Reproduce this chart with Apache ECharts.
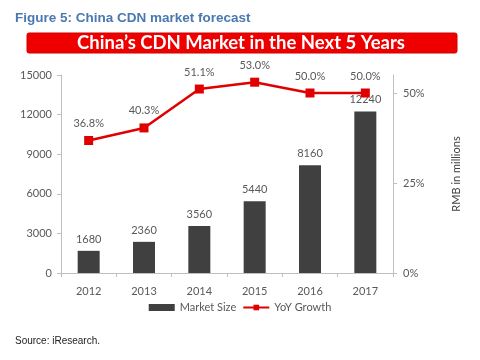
<!DOCTYPE html>
<html><head><meta charset="utf-8">
<script src="https://cdn.jsdelivr.net/npm/echarts@6/dist/echarts.min.js"></script>
<style>html,body{margin:0;padding:0;background:#fff}#c{width:480px;height:360px}</style>
</head><body><div id="c"></div>
<script>
const years = ['2012', '2013', '2014', '2015', '2016', '2017'];
const marketSize = [1680, 2360, 3560, 5440, 8160, 12240];
const yoyGrowth = [36.8, 40.3, 51.1, 53.0, 50.0, 50.0];
const rightTickValues = [0, 25, 50];
const figureTitle = 'Figure 5: China CDN market forecast';
const bannerTitle = 'China\u2019s CDN Market in the Next 5 Years';
const sourceText = 'Source: iResearch.';

const chart = echarts.init(document.getElementById('c'), null, {renderer: 'canvas'});
const FONT = 'Lato, "Open Sans", sans-serif';
const txt = '#595959';
chart.setOption({
  animation: false,
  backgroundColor: '#fff',
  textStyle: {fontFamily: FONT},
  graphic: [
    {type: 'text', left: 15, top: 11, style: {text: figureTitle, fill: '#4a78b0', font: 'bold 13.5px "Liberation Sans", Arial, sans-serif'}},
    {type: 'rect', shape: {x: 27, y: 33, width: 430, height: 20, r: 2}, style: {fill: '#ee0000', stroke: '#d00000', lineWidth: 1}},
    {type: 'text', x: 241, y: 43, style: {text: bannerTitle, fill: '#fff', align: 'center', verticalAlign: 'middle', font: 'bold 18.5px Lato, sans-serif'}},
    {type: 'text', left: 15, top: 336, style: {text: sourceText, fill: '#222', font: '10px "Liberation Sans", Arial, sans-serif'}}
  ],
  grid: {left: 61, right: 87, top: 75, bottom: 87, containLabel: false},
  legend: {
    bottom: 42, left: 'center', itemGap: 6, itemWidth: 26, itemHeight: 7,
    textStyle: {color: txt, fontSize: 11, fontFamily: FONT},
    data: [
      {name: 'Market Size', icon: 'rect'},
      {name: 'YoY Growth'}
    ]
  },
  xAxis: {
    type: 'category', data: years,
    axisLine: {lineStyle: {color: '#bfbfbf'}},
    axisTick: {show: true, length: 4, lineStyle: {color: '#bfbfbf'}},
    axisLabel: {color: txt, fontSize: 11, margin: 13}
  },
  yAxis: [
    {
      type: 'value', min: 0, max: 15000, interval: 3000,
      axisLine: {show: true, lineStyle: {color: '#bfbfbf'}},
      axisTick: {show: true, length: 4, lineStyle: {color: '#bfbfbf'}},
      splitLine: {show: false},
      axisLabel: {color: txt, fontSize: 11, margin: 9, formatter: v => String(v)}
    },
    {
      type: 'value', min: 0, max: 55, position: 'right',
      name: 'RMB in millions', nameLocation: 'middle', nameRotate: 90, nameGap: 58,
      nameTextStyle: {color: '#404040', fontSize: 11, fontFamily: FONT},
      axisLine: {show: true, lineStyle: {color: '#bfbfbf'}},
      axisTick: {show: true, length: 4, lineStyle: {color: '#bfbfbf'}, customValues: rightTickValues},
      splitLine: {show: false},
      axisLabel: {color: txt, fontSize: 11, margin: 10, customValues: rightTickValues, formatter: v => v + '%'}
    }
  ],
  series: [
    {
      name: 'Market Size', type: 'bar', data: marketSize, barWidth: 22,
      itemStyle: {color: '#404040'},
      label: {show: true, position: 'top', distance: 6, color: txt, fontSize: 11}
    },
    {
      name: 'YoY Growth', type: 'line', yAxisIndex: 1, data: yoyGrowth, z: 5,
      symbol: 'rect', symbolSize: 9,
      lineStyle: {color: '#e00000', width: 2.5},
      itemStyle: {color: '#e00000'},
      label: {show: true, position: 'top', distance: 7, color: txt, fontSize: 11, formatter: p => p.value.toFixed(1) + '%'}
    }
  ]
});
</script>
</body></html>
